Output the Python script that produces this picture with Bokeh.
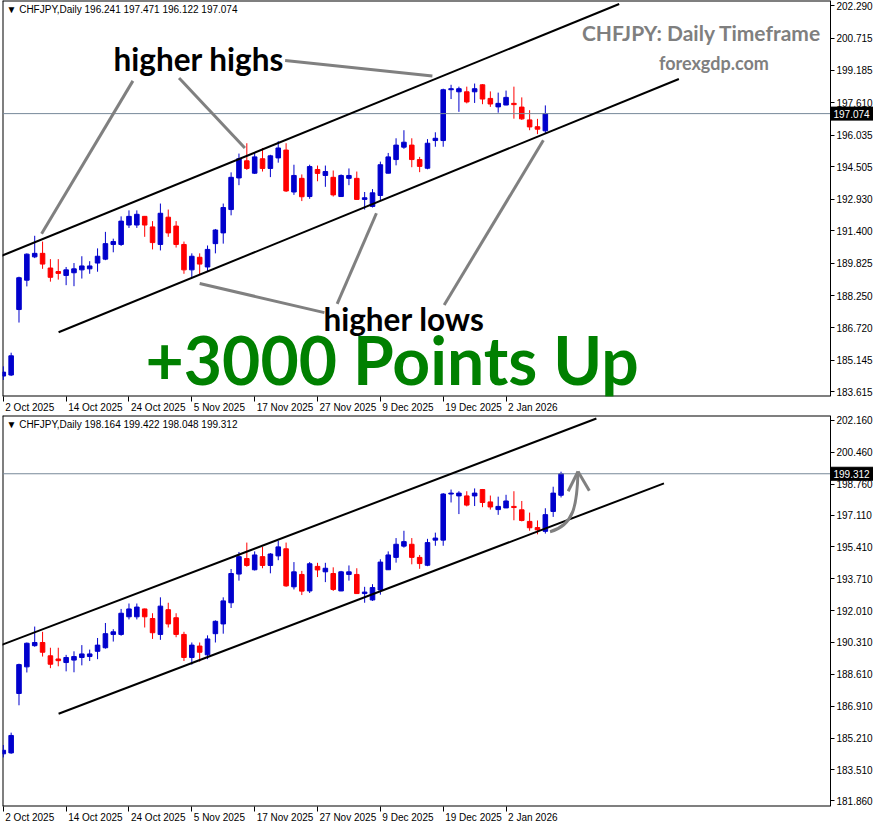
import numpy as np
from bokeh.plotting import figure
from bokeh.layouts import column
from bokeh.models import FixedTicker, PrintfTickFormatter, Label, Range1d, ColumnDataSource
from bokeh.core.properties import value
from bokeh.embed import file_html
from bokeh.resources import INLINE

# ---------------- data (daily bars, bar 0 = 2 Oct 2025) ----------------
symbol = "CHFJPY,Daily"
opens = [184.37, 184.42, 187.59, 189.01, 190.14, 190.31, 189.60, 189.43, 189.24, 189.37,
         189.51, 189.56, 189.84, 190.03, 190.74, 190.74, 191.68, 191.68, 192.10, 191.59,
         190.74, 192.06, 191.63, 190.74, 189.51, 190.12, 189.65, 190.78, 191.30, 192.43,
         193.96, 194.79, 194.19, 194.89, 194.42, 194.93, 195.31, 193.28, 193.94, 193.06,
         194.37, 194.08, 193.99, 193.06, 193.94, 193.94, 192.92, 192.58, 193.11, 194.19,
         194.85, 195.45, 195.55, 194.85, 194.43, 195.77, 195.77, 198.23, 198.13, 198.13,
         198.13, 198.47, 197.81, 197.40, 197.49, 197.57, 197.39, 196.77, 196.44, 196.241,
         197.30, 198.164]
highs = [184.84, 185.50, 189.18, 190.31, 191.16, 190.88, 190.03, 190.03, 189.65, 189.84,
         190.17, 189.93, 190.55, 191.35, 191.02, 192.10, 192.39, 192.39, 192.12, 191.87,
         192.72, 192.43, 191.87, 190.88, 190.31, 190.31, 190.69, 191.49, 192.72, 194.23,
         195.14, 195.64, 195.17, 195.41, 195.08, 195.74, 195.64, 194.60, 194.13, 194.60,
         194.56, 194.56, 194.32, 194.13, 194.42, 194.27, 193.28, 193.42, 194.75, 195.17,
         195.88, 196.27, 195.88, 194.98, 195.84, 196.17, 198.28, 198.47, 198.38, 198.38,
         198.53, 198.50, 198.15, 198.09, 198.19, 198.38, 197.86, 197.24, 196.82, 197.471,
         198.62, 199.422]
lows = [184.18, 184.37, 186.96, 188.71, 190.08, 189.56, 188.94, 189.04, 188.77, 188.72,
        189.09, 189.32, 189.42, 189.98, 190.36, 190.67, 191.54, 191.54, 191.11, 190.50,
        190.45, 191.11, 190.59, 189.32, 189.13, 189.29, 189.42, 190.31, 190.78, 192.15,
        193.61, 194.35, 194.15, 194.27, 194.00, 194.70, 193.28, 193.14, 192.84, 192.95,
        193.80, 193.53, 193.06, 193.05, 193.61, 192.91, 192.43, 192.53, 192.86, 194.18,
        194.57, 195.37, 194.48, 194.24, 194.38, 195.47, 195.47, 197.78, 197.16, 197.57,
        197.59, 197.53, 197.40, 197.12, 197.48, 196.83, 196.77, 196.27, 196.08, 196.122,
        197.01, 198.048]
closes = [184.56, 185.35, 189.13, 190.27, 190.31, 189.79, 189.15, 189.34, 189.51, 189.56,
          189.70, 189.70, 190.17, 190.78, 190.88, 191.87, 192.10, 192.20, 191.68, 190.83,
          192.25, 191.30, 190.74, 189.51, 190.17, 189.79, 190.50, 191.44, 192.53, 193.99,
          194.89, 194.42, 194.98, 194.42, 195.03, 195.41, 193.33, 194.08, 193.05, 194.51,
          194.18, 194.27, 193.14, 194.08, 194.08, 192.92, 193.00, 193.24, 194.60, 194.98,
          195.55, 195.69, 194.85, 194.52, 195.64, 195.88, 198.23, 198.28, 198.28, 197.64,
          198.28, 197.78, 197.54, 197.57, 197.86, 197.51, 196.82, 196.43, 196.32, 197.13,
          198.28, 199.312]
top_bars = 70            # upper chart was taken two sessions earlier
top_last_close = 197.074  # live close of bar 69 in the upper chart

date_ticks = [0, 8, 16, 24, 32, 40, 48, 56, 64]
date_labels = ["2 Oct 2025", "14 Oct 2025", "24 Oct 2025", "5 Nov 2025", "17 Nov 2025",
               "27 Nov 2025", "9 Dec 2025", "19 Dec 2025", "2 Jan 2026"]

top_yticks = [202.290, 200.715, 199.185, 197.610, 196.035, 194.505, 192.930, 191.400,
              189.825, 188.250, 186.720, 185.145, 183.615]
bot_yticks = [202.160, 200.460, 198.760, 197.110, 195.410, 193.710, 192.010, 190.310,
              188.610, 186.910, 185.210, 183.510, 181.860]

# trend channel lines: (bar index list, price list)
top_upper = ([-0.4, 78.4], [190.16, 202.38])
top_lower = ([7.04, 86.0], [186.49, 198.75])
bot_upper = ([-0.4, 75.5], [190.15, 202.26])
bot_lower = ([7.04, 84.1], [186.51, 198.80])

# ---------------- styling / geometry ----------------
BULL = "#0000CC"
BEAR = "#FF0000"
GRAY = "#808080"
AX_FONT = "Liberation Sans"
AX_SIZE = 10
FRAME_W = 871          # frame covers the whole width; price scale sits inside it
AXIS_PX = 43           # width of the price-scale strip at the right
X0 = -0.1
XA = 105.3             # bar position of the price-scale line
PX_PER_BAR = (FRAME_W - AXIS_PX) / (XA - X0)
X1 = XA + AXIS_PX / PX_PER_BAR

# Arial / Liberation Sans advance widths (em) used to left-align date labels
_CW = {" ": 0.278, "O": 0.778, "c": 0.5, "t": 0.278, "N": 0.722, "o": 0.556, "v": 0.5,
       "D": 0.722, "e": 0.556, "J": 0.5, "a": 0.556, "n": 0.556}


def text_w(s):
    return sum(_CW.get(ch, 0.556) for ch in s) * AX_SIZE


def make_panel(n, o, h, l, c, y0, y1, yticks, frame_h):
    p = figure(frame_width=FRAME_W, frame_height=frame_h, x_range=Range1d(X0, X1),
               y_range=Range1d(y0, y1), output_backend="svg", toolbar_location=None,
               y_axis_location="right", min_border_left=2, min_border_right=0,
               min_border_top=0, min_border_bottom=0)
    p.xgrid.visible = False
    p.ygrid.visible = False
    p.outline_line_color = None
    p.background_fill_color = "white"
    p.border_fill_color = "white"
    px_per_yen = frame_h / (y1 - y0)

    # price scale: a real axis, fixed at the right edge of the chart area
    ya = p.yaxis[0]
    ya.fixed_location = XA
    ya.ticker = FixedTicker(ticks=yticks)
    ya.formatter = PrintfTickFormatter(format="%.3f")
    ya.major_tick_out = 4
    ya.major_tick_in = 0
    ya.minor_tick_out = 0
    ya.minor_tick_in = 0
    ya.major_label_standoff = 2
    ya.axis_line_color = "black"
    ya.major_label_text_font = AX_FONT
    ya.major_label_text_font_size = f"{AX_SIZE}px"
    ya.major_label_text_color = "black"

    # time scale: centred labels shifted by half a label width so that each
    # label starts at its (minor) tick mark, like the MetaTrader time scale
    label_pos = [round(t + (text_w(s) / 2 + 2) / PX_PER_BAR, 3)
                 for t, s in zip(date_ticks, date_labels)]
    xa = p.xaxis[0]
    xa.ticker = FixedTicker(ticks=label_pos, minor_ticks=date_ticks)
    xa.major_label_overrides = {lp: s for lp, s in zip(label_pos, date_labels)}
    xa.major_tick_out = 5
    xa.major_tick_in = 0
    xa.major_tick_line_color = None
    xa.minor_tick_out = 5
    xa.minor_tick_in = 0
    xa.minor_tick_line_color = "black"
    xa.major_label_standoff = 0
    xa.axis_line_color = None
    xa.major_label_text_font = AX_FONT
    xa.major_label_text_font_size = f"{AX_SIZE}px"
    xa.major_label_text_color = "black"

    # chart-area border (the price-scale line closes it on the right)
    p.line([X0, XA], [y1, y1], line_color="black", line_width=2)
    p.line([X0, XA], [y0, y0], line_color="black", line_width=2)
    p.line([X0, X0], [y0, y1], line_color="black", line_width=2)

    x = list(range(n))
    oo = np.array(o[:n], dtype=float)
    cc = np.array(c[:n], dtype=float)
    cols = [BULL if cv >= ov else BEAR for ov, cv in zip(oo, cc)]
    src = ColumnDataSource(dict(x=x, h=h[:n], l=l[:n], top=np.maximum(oo, cc),
                                bottom=np.minimum(oo, cc), color=cols))
    p.segment("x", "h", "x", "l", source=src, line_color="color", line_width=1)
    p.vbar(x="x", top="top", bottom="bottom", width=0.58, source=src,
           fill_color="color", line_color="color", line_width=1)

    # current price line and its tag on the price scale
    last = float(cc[-1])
    p.segment(x0=[X0], y0=[last], x1=[XA], y1=[last], line_color="#778899", line_width=1)
    half = 6.5 / px_per_yen
    p.quad(left=[XA + 0.5 / PX_PER_BAR], right=[X1], bottom=[last - half], top=[last + half],
           fill_color="black", line_color="black")
    p.text(x=[XA + 3 / PX_PER_BAR], y=[last], text=[f"{last:.3f}"], text_font=value(AX_FONT),
           text_font_size=f"{AX_SIZE}px", text_color="white", text_align="left",
           text_baseline="middle")

    hdr = f"\u25BC {symbol}  {o[n-1]:.3f} {h[n-1]:.3f} {l[n-1]:.3f} {c[n-1]:.3f}"
    p.add_layout(Label(x=X0, y=y1, text=hdr, x_offset=4, y_offset=-3, text_align="left",
                       text_baseline="top", text_font=AX_FONT,
                       text_font_size=f"{AX_SIZE}px", text_color="black"))
    return p


top_closes = closes[:top_bars - 1] + [top_last_close]
p1 = make_panel(top_bars, opens, highs, lows, top_closes, 183.38, 202.55, top_yticks, 396)
p2 = make_panel(len(opens), opens, highs, lows, closes, 181.56, 202.42, bot_yticks, 391)

# channels
for p, up, lo in ((p1, top_upper, top_lower), (p2, bot_upper, bot_lower)):
    p.line(up[0], up[1], line_color="black", line_width=2)
    p.line(lo[0], lo[1], line_color="black", line_width=2)

# top annotations
p1.segment(x0=[16.5, 22.375, 35.875, 25.0, 42.5, 56.125],
           y0=[198.66, 198.80, 199.65, 188.85, 187.86, 187.81],
           x1=[4.875, 30.75, 54.625, 40.875, 47.5, 68.75],
           y1=[191.26, 195.41, 198.89, 187.44, 192.25, 195.78],
           line_color=GRAY, line_width=3)
p1.text(x=[24.875], y=[199.72], text=["higher highs"], text_font=value("Lato"),
        text_font_style="bold", text_font_size="31.5px", text_color="black",
        text_align="center", text_baseline="middle")
p1.text(x=[51.0], y=[187.15], text=["higher lows"], text_font=value("Lato"),
        text_font_style="bold", text_font_size="31.5px", text_color="black",
        text_align="center", text_baseline="middle")
p1.text(x=[49.5], y=[185.15], text=["+3000 Points Up"], text_font=value("Lato"),
        text_font_style="bold", text_font_size="66px", text_color="#008000",
        text_align="center", text_baseline="middle")
p1.text(x=[104.125], y=[200.99], text=["CHFJPY: Daily Timeframe"], text_font=value("Lato"),
        text_font_style="bold", text_font_size="21px", text_color="#7f7f7f",
        text_align="right", text_baseline="middle")
p1.text(x=[90.46], y=[199.52], text=["forexgdp.com"], text_font=value("Lato"),
        text_font_style="bold", text_font_size="18px", text_color="#7f7f7f",
        text_align="center", text_baseline="middle")

# bottom curved arrow
p2.bezier(x0=[69.6], y0=[196.22], x1=[73.16], y1=[199.43], cx0=[72.6], cy0=[196.55],
          cx1=[73.05], cy1=[197.6], line_color=GRAY, line_width=3)
p2.segment(x0=[73.16, 73.16], y0=[199.43, 199.43], x1=[71.91, 74.6], y1=[198.38, 198.41],
           line_color=GRAY, line_width=3)

layout = column(p1, p2, spacing=0)
open("out.html", "w").write(file_html(layout, INLINE))
